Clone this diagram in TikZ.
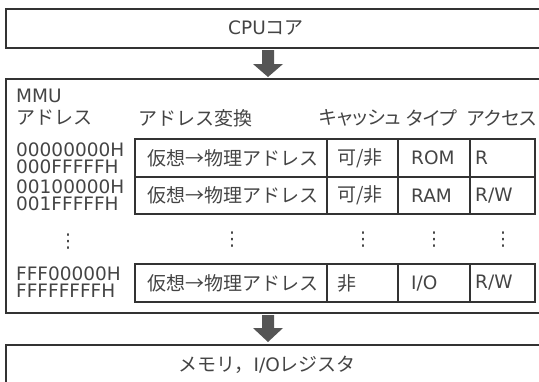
\documentclass[tikz,border=0pt]{standalone}
\usepackage{fontspec}
\setmainfont{DejaVu Sans}
\newfontfamily\jpf{Noto Sans CJK JP}
\newfontfamily\jppf[RawFeature=+palt]{Noto Sans CJK JP}
\newcommand\jp{\jpf\fontsize{19}{19}\selectfont}
\newcommand\jpp{\jppf\fontsize{19}{19}\selectfont}
\definecolor{lc}{HTML}{333333}
\definecolor{tc}{HTML}{444444}
\definecolor{ac}{HTML}{555555}
\begin{document}
\begin{tikzpicture}[x=1pt,y=-1pt,
  box/.style={draw=lc, line width=1.7pt},
  grid/.style={draw=lc, line width=1.2pt},
  lbl/.style={text=tc, inner sep=0pt, anchor=west, font=\fontsize{18.5}{18.5}\selectfont},
  clbl/.style={text=tc, inner sep=0pt, anchor=center, font=\fontsize{18.5}{18.5}\selectfont},
  dots/.style={text=tc, inner sep=0pt, anchor=center, font=\fontsize{19}{19}\selectfont},
  blockarrow/.style={fill=ac, draw=none}]
\useasboundingbox (0,0) rectangle (539,381);
% outer boxes
\draw[box] (6,9) rectangle (542,48);
\node[clbl] (cpu) at (266,28) {CPU{\jp コア}};
\draw[box] (6,79) rectangle (542,313);
\draw[box] (6,345) rectangle (542,392);
\node[clbl] (mem) at (267,365) {{\jp メモリ，}I/O{\jp レジスタ}};
% block arrows
\fill[blockarrow] (262,50) -- (274,50) -- (274,64) -- (283,64) -- (268,77) -- (253,64) -- (262,64) -- cycle;
\fill[blockarrow] (262,315) -- (274,315) -- (274,328) -- (283,328) -- (268,342) -- (253,328) -- (262,328) -- cycle;
% headings
\node[lbl] (mmu) at (16,96) {MMU};
\node[lbl] (hadr) at (16,118) {\jp アドレス};
\node[lbl] (hconv) at (138,118) {\jp アドレス変換};
\node[clbl] (hcache) at (360,118) {\jpp キャッシュ};
\node[clbl] (htype) at (432,118) {\jpp タイプ};
\node[clbl] (hacc) at (502,118) {\jpp アクセス};
% table cells
\foreach \t/\b in {139/177,177/214,264/302}{
  \draw[grid] (135,\t) rectangle (535,\b);
  \draw[grid] (327,\t) -- (327,\b);
  \draw[grid] (398,\t) -- (398,\b);
  \draw[grid] (470,\t) -- (470,\b);
}
% addresses
\node[lbl] (a1) at (16,150) {00000000H};
\node[lbl] (a2) at (16,167) {000FFFFFH};
\node[lbl] (a3) at (16,187) {00100000H};
\node[lbl] (a4) at (16,204) {001FFFFFH};
\node[lbl] (a5) at (16,274) {FFF00000H};
\node[lbl] (a6) at (16,291) {FFFFFFFFH};
% row 1
\node[lbl] (r1c1) at (147,158) {\jp 仮想→物理アドレス};
\node[lbl] (r1c2) at (337,158) {\jp 可/非};
\node[lbl] (r1c3) at (411,158) {ROM};
\node[lbl] (r1c4) at (475,158) {R};
% row 2
\node[lbl] (r2c1) at (147,195.5) {\jp 仮想→物理アドレス};
\node[lbl] (r2c2) at (337,195.5) {\jp 可/非};
\node[lbl] (r2c3) at (411,195.5) {RAM};
\node[lbl] (r2c4) at (475,195.5) {R/W};
% row 3
\node[lbl] (r3c1) at (147,283) {\jp 仮想→物理アドレス};
\node[lbl] (r3c2) at (337,283) {\jp 非};
\node[lbl] (r3c3) at (411,283) {I/O};
\node[lbl] (r3c4) at (475,283) {R/W};
% vertical dots
\foreach \n/\x/\y in {d0/68/242,d1/232/240,d2/363/240,d3/434/240,d4/503/240}{
  \node[dots] (\n) at (\x,\y) {⋮};
}
\end{tikzpicture}
\end{document}
